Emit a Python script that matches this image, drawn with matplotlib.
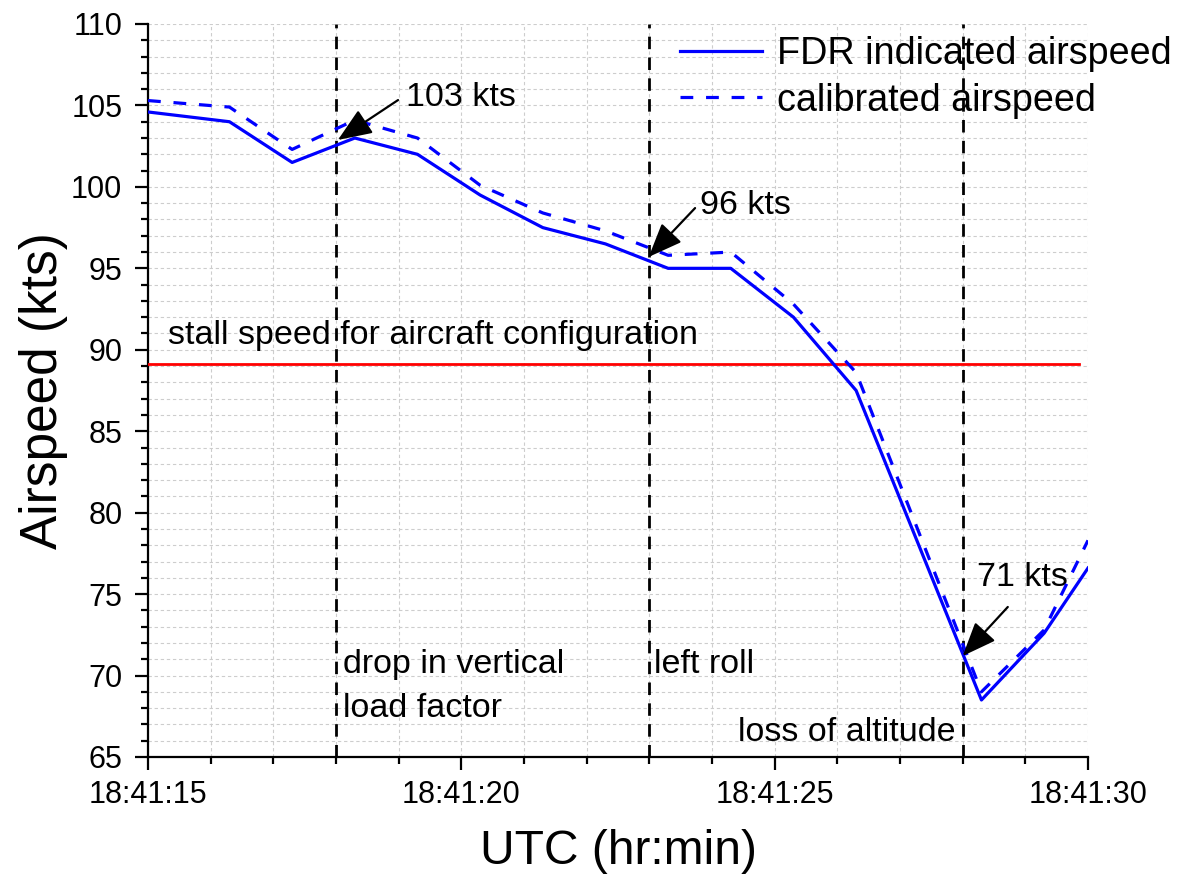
import matplotlib
matplotlib.use('Agg')
import matplotlib.pyplot as plt
from matplotlib.ticker import MultipleLocator, FixedLocator, FixedFormatter

plt.rcParams['font.family'] = ['Liberation Sans', 'DejaVu Sans']

# ---- data (seconds after 18:41:00) ----
time_s = [15.0, 16.3, 17.3, 18.3, 19.3, 20.3, 21.3, 22.3, 23.3, 24.3, 25.3, 26.3, 27.3, 28.3, 29.3, 30.0]
fdr_ias = [104.6, 104.0, 101.5, 103.0, 102.0, 99.5, 97.5, 96.5, 95.0, 95.0, 92.0, 87.5, 78.0, 68.5, 72.6, 76.6]
cal_as = [105.3, 104.9, 102.3, 104.1, 103.0, 100.1, 98.4, 97.3, 95.8, 96.0, 92.8, 88.6, 78.8, 69.0, 72.8, 78.3]
stall_t = [15.0, 29.85]
stall_v = [89.1, 89.1]
event_t = [18.0, 23.0, 28.0]
xtick_vals = [15, 20, 25, 30]
xtick_labels = ['18:41:15', '18:41:20', '18:41:25', '18:41:30']

fig = plt.figure(figsize=(11.8, 8.84), dpi=100)
ax = fig.add_axes([148/1180, 1-757/884, (1088-148)/1180, (757-24)/884])

ax.set_xlim(15, 30)
ax.set_ylim(65, 110)

# grid
ax.xaxis.set_major_locator(FixedLocator(xtick_vals))
ax.xaxis.set_major_formatter(FixedFormatter(xtick_labels))
ax.xaxis.set_minor_locator(MultipleLocator(1))
ax.yaxis.set_major_locator(MultipleLocator(5))
ax.yaxis.set_minor_locator(MultipleLocator(1))
ax.grid(which='both', color='#cdcdcd', lw=0.8, linestyle=(0, (3, 2.5)), zorder=0)
ax.set_axisbelow(True)

for s in ['top', 'right']:
    ax.spines[s].set_visible(False)
for s in ['left', 'bottom']:
    ax.spines[s].set_linewidth(1.6)

ax.tick_params(which='major', length=9.5, width=1.6, direction='out', labelsize=22)
ax.tick_params(which='minor', length=5, width=1.6, direction='out')
ax.tick_params(axis='y', which='major', pad=9)
ax.tick_params(axis='x', which='major', pad=7)

# event lines
for t in event_t:
    ax.axvline(t, color='black', lw=2.0, linestyle=(0, (4.5, 3)), zorder=2)

# stall speed
ax.plot(stall_t, stall_v, color='#ff0000', lw=2.0, zorder=3)

# airspeed lines
ax.plot(time_s, fdr_ias, color='#0000ff', lw=2.3, label='FDR indicated airspeed', zorder=4)
ax.plot(time_s, cal_as, color='#0000ff', lw=2.3, linestyle=(0, (4, 4)), label='calibrated airspeed', zorder=4)

# annotations
arrow_kw = dict(arrowstyle='-|>,head_length=2.1,head_width=0.85', color='black', lw=1.6,
                mutation_scale=10, shrinkA=0, shrinkB=0)
ax.annotate('', xy=(18.03, 102.88), xytext=(18.99, 105.33), arrowprops=arrow_kw, zorder=5)
ax.annotate('', xy=(22.99, 95.7), xytext=(23.73, 98.7), arrowprops=arrow_kw, zorder=5)
ax.annotate('', xy=(28.0, 71.2), xytext=(28.72, 74.21), arrowprops=arrow_kw, zorder=5)

tfs = 24.5
ax.text(19.11, 105.5, '103 kts', fontsize=tfs, va='center', ha='left')
ax.text(23.81, 98.83, '96 kts', fontsize=tfs, va='center', ha='left')
ax.text(28.23, 76.05, '71 kts', fontsize=tfs, va='center', ha='left')
ax.text(15.32, 90.9, 'stall speed for aircraft configuration', fontsize=tfs, va='center', ha='left')
ax.text(18.11, 70.65, 'drop in vertical', fontsize=tfs, va='center', ha='left')
ax.text(18.11, 68.0, 'load factor', fontsize=tfs, va='center', ha='left')
ax.text(23.08, 70.65, 'left roll', fontsize=tfs, va='center', ha='left')
ax.text(24.41, 66.5, 'loss of altitude', fontsize=tfs, va='center', ha='left')

ax.set_xlabel('UTC (hr:min)', fontsize=34.5, labelpad=14)
ax.set_ylabel('Airspeed (kts)', fontsize=37, labelpad=2)

leg = ax.legend(loc='upper right', bbox_to_anchor=(1172/1180, 1-36/884), bbox_transform=fig.transFigure,
                frameon=False, fontsize=27.2, handlelength=2.17, handletextpad=0.4,
                labelspacing=0.28, borderpad=0, borderaxespad=0)

fig.savefig('out.png', dpi=100)
